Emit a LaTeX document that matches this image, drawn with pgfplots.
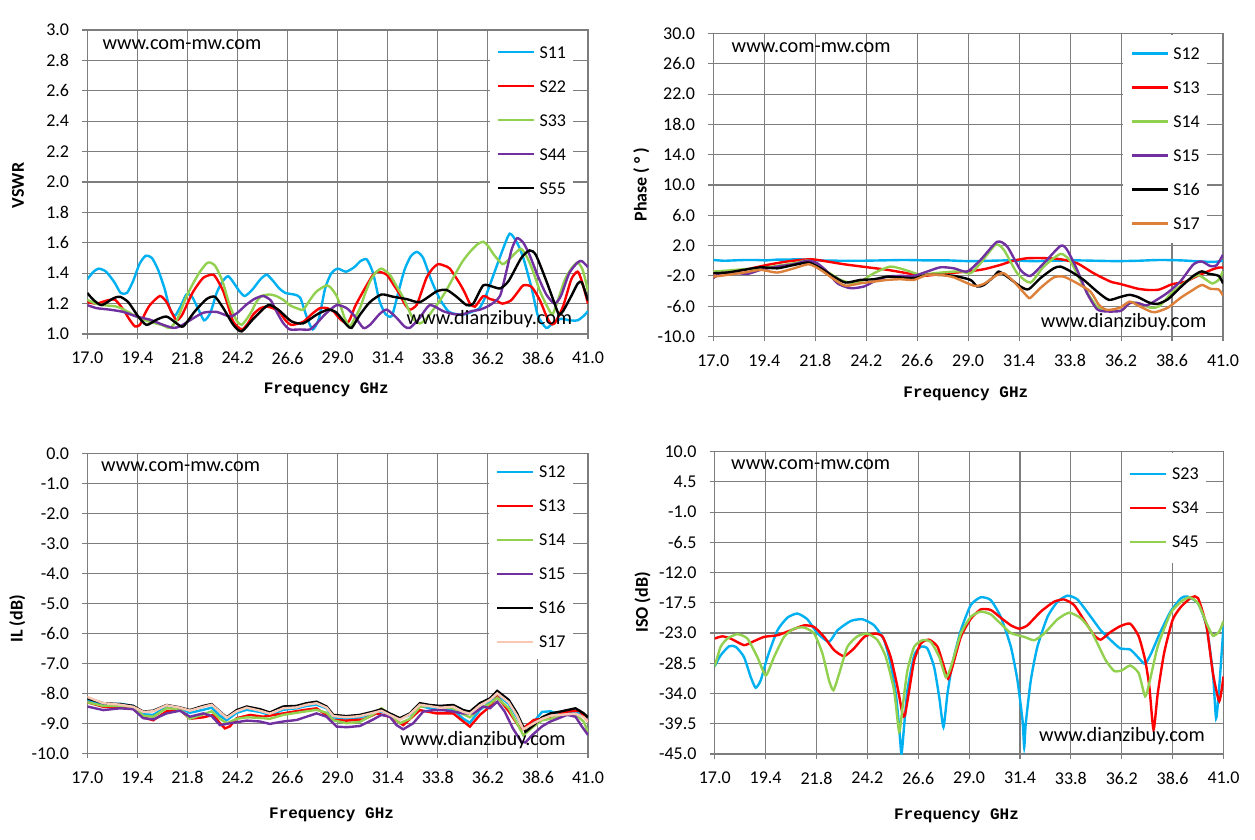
\documentclass[border=0pt]{standalone}
\usepackage{fontspec}
\setmainfont{Carlito}
\newfontfamily\xlabfont{Liberation Mono}
\usepackage{pgfplots}
\pgfplotsset{compat=1.18}

\definecolor{cB}{RGB}{0,176,240}
\definecolor{cR}{RGB}{255,0,0}
\definecolor{cG}{RGB}{146,208,80}
\definecolor{cP}{RGB}{112,48,160}
\definecolor{cO}{RGB}{220,128,58}
\definecolor{cPe}{RGB}{248,200,180}
\definecolor{gridc}{RGB}{125,125,125}

\newcommand{\fs}{\fontsize{18pt}{21pt}\selectfont}
\newcommand{\wm}{\fontsize{20.3pt}{24pt}\selectfont}
\newcommand{\yl}{\fontsize{18pt}{21pt}\selectfont\bfseries}
\newcommand{\xl}{\fontsize{16pt}{19pt}\selectfont\xlabfont\bfseries}

\pgfplotsset{
  panel/.style={
    scale only axis, anchor=south west,
    xmin=17, xmax=41,
    xtick={17,19.4,21.8,24.2,26.6,29,31.4,33.8,36.2,38.6,41},
    xticklabels={17.0,19.4,21.8,24.2,26.6,29.0,31.4,33.8,36.2,38.6,41.0},
    grid=major,
    major grid style={draw=gridc, line width=1.1pt},
    axis line style={draw=gridc, line width=1.1pt},
    every tick/.style={draw=gridc, line width=1.1pt},
    tick align=outside,
    major tick length=5pt,
    tick pos=left,
    tick label style={font=\fs},
    xticklabel style={inner sep=0pt, yshift=-13pt},
    yticklabel style={inner sep=0pt, xshift=-13pt},
    legend style={draw=none, fill=white, font=\fs, anchor=north west,
      inner xsep=7pt, inner ysep=15pt, row sep=22pt,
      nodes={inner sep=0pt, text height=12pt, text depth=0pt},
      cells={anchor=west},
      /tikz/every odd column/.append style={column sep=4.6pt}},
    legend image code/.code={\draw[#1, line width=2.4pt] (0pt,0pt) -- (36pt,0pt);},
    every axis plot/.append style={line width=2.4pt, no markers},
  }
}

\begin{document}
\begin{tikzpicture}
\path[use as bounding box] (0pt,0pt) rectangle (1255pt,839pt);

% ---------------- Panel 1: VSWR ----------------
\begin{axis}[panel, at={(87.3pt,505pt)}, width=500.7pt, height=304pt,
  ymin=1, ymax=3,
  ytick={1,1.2,1.4,1.6,1.8,2,2.2,2.4,2.6,2.8,3},
  yticklabels={1.0,1.2,1.4,1.6,1.8,2.0,2.2,2.4,2.6,2.8,3.0},
  legend style={at={(0.803,0.997)}},
  every axis plot/.append style={smooth, tension=0.4}]
\addplot[cB] coordinates {(17.0,1.36)(17.3,1.41)(17.55,1.43)(17.9,1.41)(18.3,1.34)(18.6,1.27)(18.9,1.27)(19.2,1.35)(19.5,1.46)(19.8,1.515)(20.1,1.50)(20.4,1.42)(20.7,1.30)(20.95,1.17)(21.2,1.12)(21.5,1.19)(21.75,1.26)(22.0,1.25)(22.3,1.17)(22.6,1.09)(22.9,1.14)(23.2,1.27)(23.5,1.35)(23.75,1.38)(24.0,1.34)(24.3,1.28)(24.55,1.25)(24.9,1.29)(25.3,1.36)(25.6,1.39)(25.9,1.35)(26.2,1.30)(26.5,1.27)(26.9,1.26)(27.2,1.24)(27.5,1.12)(27.8,1.03)(28.1,1.10)(28.4,1.30)(28.7,1.40)(29.0,1.43)(29.4,1.41)(29.8,1.44)(30.1,1.48)(30.4,1.49)(30.7,1.40)(31.0,1.22)(31.3,1.13)(31.6,1.12)(31.9,1.27)(32.2,1.42)(32.5,1.51)(32.8,1.54)(33.1,1.50)(33.5,1.35)(33.9,1.23)(34.3,1.15)(34.7,1.13)(35.1,1.13)(35.5,1.15)(35.8,1.17)(36.1,1.25)(36.5,1.40)(36.9,1.55)(37.25,1.66)(37.6,1.60)(37.9,1.50)(38.3,1.30)(38.6,1.12)(39.0,1.04)(39.3,1.07)(39.7,1.10)(40.1,1.09)(40.5,1.09)(40.8,1.12)(41.0,1.15)};
\addlegendentry{S11}
\addplot[cR] coordinates {(17.0,1.21)(17.45,1.20)(17.93,1.22)(18.33,1.225)(18.73,1.16)(19.0,1.10)(19.28,1.05)(19.52,1.06)(19.75,1.13)(20.0,1.19)(20.48,1.25)(20.8,1.21)(21.05,1.14)(21.28,1.09)(21.52,1.12)(21.8,1.20)(22.08,1.28)(22.56,1.37)(23.04,1.39)(23.3,1.34)(23.52,1.28)(23.76,1.18)(24.0,1.08)(24.4,1.03)(24.7,1.07)(24.96,1.13)(25.3,1.17)(25.6,1.18)(25.9,1.17)(26.23,1.14)(26.5,1.09)(26.79,1.06)(27.35,1.08)(27.75,1.13)(28.15,1.17)(28.5,1.17)(28.79,1.15)(29.1,1.10)(29.43,1.07)(29.6,1.10)(29.83,1.18)(30.1,1.25)(30.39,1.32)(30.7,1.39)(30.95,1.41)(31.35,1.39)(31.7,1.32)(31.98,1.26)(32.2,1.20)(32.46,1.16)(32.78,1.19)(33.0,1.27)(33.26,1.37)(33.55,1.43)(33.82,1.46)(34.1,1.45)(34.38,1.43)(34.86,1.33)(35.1,1.27)(35.34,1.20)(35.58,1.18)(35.98,1.25)(36.3,1.23)(36.6,1.22)(36.9,1.20)(37.3,1.22)(37.6,1.27)(37.9,1.32)(38.3,1.31)(38.7,1.22)(39.0,1.12)(39.2,1.07)(39.4,1.07)(39.8,1.18)(40.2,1.36)(40.5,1.41)(40.7,1.35)(41.0,1.20)};
\addlegendentry{S22}
\addplot[cG] coordinates {(17.0,1.225)(17.4,1.20)(17.77,1.19)(18.41,1.18)(18.9,1.15)(19.28,1.12)(19.6,1.10)(20.0,1.08)(20.56,1.06)(20.96,1.04)(21.28,1.09)(21.5,1.16)(21.76,1.25)(22.1,1.34)(22.4,1.41)(22.72,1.465)(22.9,1.47)(23.12,1.45)(23.35,1.39)(23.52,1.33)(23.8,1.20)(24.0,1.13)(24.2,1.08)(24.4,1.06)(24.65,1.10)(24.88,1.15)(25.1,1.21)(25.35,1.25)(25.75,1.26)(26.05,1.25)(26.39,1.225)(26.7,1.19)(27.03,1.17)(27.35,1.16)(27.65,1.22)(27.99,1.28)(28.47,1.32)(28.7,1.30)(28.95,1.25)(29.15,1.18)(29.35,1.10)(29.59,1.05)(29.8,1.10)(30.07,1.17)(30.3,1.26)(30.55,1.345)(30.8,1.40)(31.1,1.43)(31.5,1.39)(31.8,1.32)(32.14,1.24)(32.4,1.16)(32.62,1.10)(32.94,1.07)(33.25,1.10)(33.58,1.16)(33.9,1.22)(34.22,1.29)(34.7,1.41)(35.0,1.48)(35.34,1.54)(35.7,1.59)(35.98,1.607)(36.2,1.58)(36.5,1.52)(36.9,1.46)(37.2,1.49)(37.5,1.53)(37.8,1.56)(38.1,1.50)(38.4,1.40)(38.7,1.28)(39.05,1.18)(39.3,1.13)(39.6,1.24)(39.9,1.36)(40.2,1.43)(40.5,1.47)(40.75,1.42)(41.0,1.28)};
\addlegendentry{S33}
\addplot[cP] coordinates {(17.0,1.19)(17.45,1.17)(18.09,1.16)(18.73,1.145)(19.36,1.115)(20.0,1.094)(20.64,1.06)(21.12,1.04)(21.44,1.05)(21.92,1.09)(22.56,1.14)(23.2,1.145)(23.84,1.115)(24.2,1.14)(24.6,1.19)(25.0,1.23)(25.43,1.25)(25.8,1.22)(26.1,1.14)(26.4,1.07)(26.71,1.03)(27.2,1.03)(27.67,1.03)(28.0,1.07)(28.4,1.13)(28.95,1.19)(29.43,1.17)(29.8,1.12)(30.23,1.04)(30.55,1.06)(31.0,1.13)(31.35,1.16)(31.8,1.11)(32.2,1.05)(32.46,1.04)(32.9,1.10)(33.42,1.19)(34.06,1.15)(34.6,1.13)(35.02,1.13)(35.4,1.15)(35.82,1.16)(36.3,1.19)(36.78,1.25)(37.1,1.42)(37.35,1.56)(37.6,1.63)(37.9,1.60)(38.2,1.52)(38.6,1.38)(39.0,1.26)(39.4,1.20)(39.7,1.25)(40.1,1.40)(40.5,1.47)(40.7,1.48)(41.0,1.44)};
\addlegendentry{S44}
\addplot[black] coordinates {(17.0,1.27)(17.29,1.225)(17.69,1.19)(18.25,1.235)(18.57,1.245)(18.96,1.21)(19.44,1.115)(19.84,1.06)(20.32,1.094)(20.8,1.115)(21.28,1.07)(21.6,1.05)(22.16,1.15)(22.72,1.23)(23.12,1.245)(23.52,1.17)(24.0,1.06)(24.4,1.017)(24.96,1.10)(25.67,1.19)(26.15,1.16)(26.79,1.083)(27.35,1.07)(27.99,1.127)(28.55,1.16)(28.95,1.14)(29.43,1.06)(29.67,1.04)(30.07,1.127)(30.55,1.21)(31.1,1.26)(31.66,1.245)(32.3,1.23)(32.94,1.21)(33.74,1.28)(34.22,1.29)(34.7,1.245)(35.18,1.19)(35.5,1.20)(35.98,1.32)(36.46,1.31)(36.8,1.30)(37.2,1.35)(37.8,1.50)(38.2,1.55)(38.5,1.52)(39.0,1.35)(39.4,1.20)(39.6,1.13)(39.8,1.15)(40.2,1.25)(40.5,1.33)(40.7,1.34)(41.0,1.22)};
\addlegendentry{S55}
\end{axis}

% ---------------- Panel 2: Phase ----------------
\begin{axis}[panel, at={(713.3pt,502.5pt)}, width=509.7pt, height=303pt,
  ymin=-10, ymax=30,
  ytick={-10,-6,-2,2,6,10,14,18,22,26,30},
  yticklabels={-10.0,-6.0,-2.0,2.0,6.0,10.0,14.0,18.0,22.0,26.0,30.0},
  legend style={at={(0.804,0.997)}, inner ysep=13pt},
  every axis plot/.append style={smooth, tension=0.4}]
\addplot[cB] coordinates {(17,0.1)(17.5,0.0)(18,0.05)(18.5,0.1)(19,0.1)(19.5,0.05)(20,0.15)(20.5,0.15)(21,0.2)(21.5,0.1)(22,0.05)(23,0.0)(24,0.0)(25,0.05)(26,0.1)(27,0.05)(28,0.05)(29,-0.05)(30,0.0)(31,0.05)(32,-0.05)(33,0.0)(34,0.05)(35,0.0)(36,-0.05)(37,0.0)(38,0.1)(39,0.05)(40,-0.1)(40.6,-0.15)(41,0.0)};
\addlegendentry{S12}
\addplot[cR] coordinates {(17.0,-1.65)(17.66,-1.56)(18.6,-1.12)(19.54,-0.55)(20.48,-0.1)(21.58,0.2)(22.36,-0.1)(23.15,-0.46)(24.25,-0.86)(25.19,-1.2)(26.13,-1.65)(26.76,-2.0)(27.38,-1.87)(28.01,-1.65)(28.95,-1.43)(29.74,-1.12)(30.52,-0.55)(31.15,0.02)(31.78,0.33)(32.56,0.35)(33.35,0.2)(34.13,-0.33)(34.91,-1.65)(35.7,-2.75)(36.14,-3.05)(36.6,-3.4)(37.0,-3.7)(37.5,-3.86)(38.0,-3.8)(38.6,-3.1)(39.2,-2.8)(39.8,-2.0)(40.5,-1.15)(40.8,-0.9)(41.0,-0.9)};
\addlegendentry{S13}
\addplot[cG] coordinates {(17.0,-1.43)(17.66,-1.3)(18.44,-1.12)(19.23,-1.0)(20.01,-0.68)(20.8,-0.33)(21.42,0.02)(21.82,-0.33)(22.36,-1.43)(22.99,-2.53)(23.46,-2.88)(23.93,-2.75)(24.56,-1.65)(25.35,-0.77)(26.13,-1.3)(26.76,-1.87)(27.38,-1.65)(28.01,-1.5)(28.64,-1.4)(29.11,-1.65)(29.58,-0.33)(30.29,2.1)(30.68,1.43)(31.31,-1.65)(31.93,-2.88)(32.56,-0.77)(33.35,0.9)(33.82,-0.1)(34.44,-3.4)(35.07,-6.1)(35.54,-6.5)(36.2,-6.6)(36.6,-5.6)(37.0,-5.6)(37.6,-6.2)(38.0,-6.0)(38.6,-4.2)(39.2,-2.9)(39.8,-1.9)(40.2,-2.5)(40.5,-3.0)(40.8,-2.5)(41.0,-1.4)};
\addlegendentry{S14}
\addplot[cP] coordinates {(17.0,-2.3)(17.35,-1.65)(17.97,-1.56)(18.6,-1.74)(19.23,-1.2)(20.01,-0.77)(20.8,-0.46)(21.42,0.0)(21.89,-0.33)(22.36,-1.43)(22.84,-2.97)(23.46,-3.63)(24.09,-3.4)(24.56,-2.75)(25.19,-2.1)(25.82,-2.0)(26.44,-2.0)(27.07,-1.43)(27.7,-0.86)(28.33,-1.0)(28.95,-1.43)(29.58,0.1)(30.36,2.5)(30.84,1.87)(31.46,-1.2)(31.93,-2.0)(32.56,-0.33)(33.35,1.96)(33.66,1.43)(34.13,-1.2)(34.6,-4.3)(35.07,-6.4)(35.54,-6.7)(36.2,-6.6)(36.6,-5.6)(37.0,-5.6)(37.4,-5.9)(37.8,-5.3)(38.4,-4.2)(39.0,-2.7)(39.6,-0.5)(40.0,-0.1)(40.4,-0.7)(40.7,-0.6)(41.0,0.8)};
\addlegendentry{S15}
\addplot[black] coordinates {(17.0,-1.65)(17.66,-1.56)(18.44,-1.2)(19.23,-0.86)(20.01,-1.0)(20.8,-0.55)(21.5,-0.24)(22.05,-1.0)(22.68,-2.1)(23.23,-2.88)(23.93,-2.53)(24.56,-2.44)(25.19,-2.1)(25.82,-2.2)(26.44,-2.3)(27.07,-1.87)(27.7,-1.87)(28.33,-2.0)(29.11,-2.53)(29.42,-3.4)(29.74,-3.2)(30.21,-2.1)(30.44,-1.43)(30.84,-2.1)(31.46,-3.4)(31.85,-3.76)(32.4,-2.3)(33.03,-1.0)(33.35,-0.77)(33.82,-1.4)(34.44,-2.53)(35.07,-4.07)(35.62,-5.16)(36.14,-4.8)(36.6,-4.5)(37.0,-4.8)(37.5,-5.5)(37.9,-5.7)(38.4,-5.1)(39.0,-3.5)(39.6,-2.0)(40.0,-1.4)(40.3,-1.7)(40.8,-2.0)(41.0,-3.0)};
\addlegendentry{S16}
\addplot[cO] coordinates {(17.0,-2.1)(17.66,-1.87)(18.44,-1.56)(19.23,-1.2)(20.01,-1.56)(20.8,-1.0)(21.5,-0.46)(22.05,-1.2)(22.68,-2.44)(23.23,-3.3)(23.93,-2.97)(24.56,-2.75)(25.19,-2.53)(25.82,-2.44)(26.44,-2.53)(27.07,-1.87)(27.7,-1.87)(28.33,-2.2)(29.27,-3.3)(29.74,-3.05)(30.36,-1.87)(30.68,-1.65)(31.15,-2.75)(31.78,-4.7)(31.93,-4.9)(32.4,-3.6)(33.03,-2.2)(33.5,-2.1)(34.13,-2.97)(34.76,-4.07)(35.15,-5.8)(35.54,-6.5)(36.14,-6.2)(36.6,-5.4)(37.0,-5.9)(37.5,-6.6)(37.8,-6.8)(38.4,-6.2)(39.0,-4.9)(39.5,-4.0)(40.0,-3.2)(40.4,-3.7)(40.8,-3.8)(41.0,-4.6)};
\addlegendentry{S17}
\end{axis}

% ---------------- Panel 3: IL ----------------
\begin{axis}[panel, at={(87.3pt,85.7pt)}, width=500.7pt, height=300pt,
  ymin=-10, ymax=0,
  ytick={-10,-9,-8,-7,-6,-5,-4,-3,-2,-1,0},
  yticklabels={-10.0,-9.0,-8.0,-7.0,-6.0,-5.0,-4.0,-3.0,-2.0,-1.0,0.0},
  legend style={at={(0.802,0.997)}, inner ysep=11.5pt}]
\addplot[cB] coordinates {(17.0,-8.25)(17.77,-8.38)(18.57,-8.35)(19.2,-8.42)(19.68,-8.7)(20.16,-8.72)(20.8,-8.45)(21.44,-8.5)(21.92,-8.65)(22.56,-8.55)(22.96,-8.48)(23.36,-8.75)(23.68,-8.9)(24.16,-8.65)(24.64,-8.55)(25.27,-8.62)(25.75,-8.72)(26.39,-8.55)(27.03,-8.5)(27.51,-8.42)(27.99,-8.38)(28.47,-8.5)(28.79,-8.8)(29.43,-8.85)(30.07,-8.8)(30.71,-8.68)(31.1,-8.6)(31.5,-8.72)(31.98,-8.85)(32.46,-8.72)(32.94,-8.42)(33.42,-8.5)(33.9,-8.55)(34.54,-8.55)(35.02,-8.85)(35.34,-8.98)(35.82,-8.55)(36.3,-8.3)(36.65,-8.05)(37.2,-8.35)(37.6,-8.8)(37.9,-9.15)(38.4,-8.95)(38.8,-8.62)(39.2,-8.6)(39.6,-8.7)(40.0,-8.65)(40.4,-8.62)(40.8,-8.75)(41.0,-8.85)};
\addlegendentry{S12}
\addplot[cR] coordinates {(17.0,-8.3)(17.77,-8.45)(18.57,-8.45)(19.2,-8.45)(19.68,-8.8)(20.16,-8.9)(20.8,-8.6)(21.44,-8.55)(21.92,-8.85)(22.56,-8.8)(23.04,-8.72)(23.36,-9.0)(23.6,-9.17)(23.84,-9.1)(24.16,-8.83)(24.8,-8.72)(25.43,-8.78)(26.39,-8.67)(27.35,-8.56)(27.99,-8.5)(28.79,-8.89)(29.43,-8.91)(30.23,-8.87)(30.87,-8.67)(31.5,-8.78)(32.14,-9.06)(32.94,-8.56)(33.74,-8.67)(34.54,-8.67)(35.02,-8.94)(35.34,-9.11)(35.82,-8.72)(36.3,-8.44)(36.65,-8.11)(37.2,-8.6)(37.8,-9.22)(38.4,-8.89)(39.2,-8.8)(40.0,-8.61)(40.6,-8.58)(41.0,-8.94)};
\addlegendentry{S13}
\addplot[cG] coordinates {(17.0,-8.3)(17.77,-8.42)(18.57,-8.42)(19.2,-8.45)(19.68,-8.75)(20.16,-8.78)(20.8,-8.5)(21.44,-8.52)(21.92,-8.85)(22.56,-8.7)(22.96,-8.6)(23.36,-8.85)(23.68,-9.0)(24.16,-8.85)(24.64,-8.8)(25.27,-8.82)(25.75,-8.85)(26.39,-8.72)(27.03,-8.65)(27.51,-8.6)(27.99,-8.55)(28.47,-8.65)(28.79,-8.9)(29.43,-9.0)(30.07,-8.95)(30.71,-8.7)(31.1,-8.5)(31.5,-8.7)(31.98,-9.0)(32.46,-8.85)(32.94,-8.45)(33.42,-8.42)(33.9,-8.45)(34.54,-8.5)(35.02,-8.7)(35.34,-8.8)(35.82,-8.5)(36.3,-8.35)(36.65,-8.15)(37.2,-8.5)(37.6,-9.0)(37.9,-9.4)(38.4,-9.1)(38.8,-8.9)(39.2,-8.85)(39.6,-8.75)(40.0,-8.7)(40.4,-8.7)(40.8,-8.95)(41.0,-9.3)};
\addlegendentry{S14}
\addplot[cP] coordinates {(17.0,-8.44)(17.77,-8.56)(18.57,-8.5)(19.2,-8.53)(19.68,-8.83)(20.16,-8.87)(20.8,-8.67)(21.44,-8.58)(21.92,-8.78)(22.56,-8.67)(22.96,-8.76)(23.36,-9.06)(23.84,-9.0)(24.64,-8.91)(25.27,-8.94)(25.75,-9.02)(26.39,-8.94)(27.03,-8.89)(27.51,-8.78)(27.99,-8.67)(28.47,-8.78)(28.95,-9.11)(29.43,-9.13)(30.07,-9.09)(30.71,-8.87)(31.1,-8.72)(31.5,-8.78)(31.82,-9.06)(32.14,-9.2)(32.62,-9.0)(33.1,-8.61)(33.58,-8.56)(34.06,-8.56)(34.54,-8.61)(35.02,-8.67)(35.5,-8.67)(35.98,-8.44)(36.3,-8.5)(36.65,-8.28)(37.0,-8.6)(37.4,-9.17)(37.8,-9.61)(38.0,-9.64)(38.3,-9.41)(38.8,-9.1)(39.2,-8.94)(39.6,-8.83)(40.0,-8.72)(40.4,-8.78)(40.7,-9.1)(41.0,-9.39)};
\addlegendentry{S15}
\addplot[black] coordinates {(17.0,-8.17)(17.77,-8.33)(18.57,-8.36)(19.2,-8.42)(19.68,-8.61)(20.16,-8.58)(20.8,-8.39)(21.44,-8.47)(21.92,-8.56)(22.56,-8.42)(22.96,-8.36)(23.36,-8.61)(23.68,-8.8)(24.16,-8.56)(24.64,-8.44)(25.27,-8.53)(25.75,-8.64)(26.39,-8.44)(27.03,-8.42)(27.51,-8.33)(27.99,-8.28)(28.47,-8.44)(28.79,-8.72)(29.43,-8.76)(30.07,-8.72)(30.71,-8.61)(31.1,-8.53)(31.5,-8.67)(31.98,-8.83)(32.46,-8.67)(32.94,-8.33)(33.42,-8.39)(33.9,-8.42)(34.54,-8.39)(35.02,-8.56)(35.34,-8.61)(35.82,-8.33)(36.3,-8.17)(36.65,-7.92)(37.2,-8.22)(37.6,-8.67)(38.0,-9.28)(38.4,-9.06)(38.8,-8.8)(39.2,-8.67)(39.6,-8.62)(40.0,-8.56)(40.4,-8.5)(40.8,-8.67)(41.0,-8.8)};
\addlegendentry{S16}
\addplot[cPe] coordinates {(17.0,-8.12)(17.77,-8.33)(18.57,-8.38)(19.2,-8.45)(19.68,-8.62)(20.16,-8.6)(20.8,-8.4)(21.44,-8.48)(21.92,-8.58)(22.56,-8.45)(22.96,-8.38)(23.36,-8.62)(23.68,-8.82)(24.16,-8.6)(24.64,-8.48)(25.27,-8.58)(25.75,-8.68)(26.39,-8.5)(27.03,-8.47)(27.51,-8.38)(27.99,-8.33)(28.47,-8.48)(28.79,-8.76)(29.43,-8.8)(30.07,-8.76)(30.71,-8.65)(31.1,-8.58)(31.5,-8.72)(31.98,-8.88)(32.46,-8.7)(32.94,-8.38)(33.42,-8.43)(33.9,-8.48)(34.54,-8.45)(35.02,-8.62)(35.34,-8.68)(35.82,-8.4)(36.3,-8.22)(36.65,-8.0)(37.2,-8.3)(37.6,-8.75)(37.9,-9.2)(38.4,-9.0)(38.8,-8.85)(39.2,-8.75)(39.6,-8.72)(40.0,-8.7)(40.4,-8.68)(40.8,-8.8)(41.0,-8.95)};
\addlegendentry{S17}
\end{axis}

% ---------------- Panel 4: ISO ----------------
\begin{axis}[panel, at={(714.7pt,85pt)}, width=508.8pt, height=302.4pt,
  ymin=-45, ymax=10,
  ytick={-45,-39.5,-34,-28.5,-23,-17.5,-12,-6.5,-1,4.5,10},
  yticklabels={-45.0,-39.5,-34.0,-28.5,-23.0,-17.5,-12.0,-6.5,-1.0,4.5,10.0},
  legend style={at={(0.8005,0.997)}},
  every axis plot/.append style={smooth, tension=0.35}]
\addplot[cB] coordinates {(17.0,-29.06)(17.28,-27.05)(17.68,-25.4)(17.99,-25.5)(18.38,-27.35)(18.7,-31.0)(18.93,-32.95)(19.17,-31.6)(19.49,-27.35)(19.96,-22.5)(20.43,-20.2)(20.9,-19.45)(21.37,-20.5)(21.84,-23.0)(22.39,-24.6)(22.79,-22.5)(23.42,-20.8)(23.97,-20.5)(24.52,-21.6)(24.99,-24.3)(25.3,-28.6)(25.54,-34.0)(25.7,-40.1)(25.81,-45.0)(25.93,-40.1)(26.09,-33.4)(26.41,-27.05)(26.72,-25.5)(27.03,-25.8)(27.35,-29.2)(27.59,-34.65)(27.79,-40.1)(27.98,-34.0)(28.21,-28.6)(28.61,-22.5)(29.08,-17.9)(29.55,-16.5)(30.02,-17.0)(30.49,-20.05)(30.97,-25.5)(31.28,-31.6)(31.52,-38.9)(31.6,-43.8)(31.67,-39.5)(31.91,-31.6)(32.22,-25.5)(32.7,-20.05)(33.17,-17.3)(33.64,-16.2)(34.11,-16.9)(34.74,-20.05)(35.21,-22.5)(35.68,-24.3)(36.13,-25.8)(36.6,-26.0)(37.0,-27.55)(37.3,-28.6)(37.6,-26.6)(38.0,-23.0)(38.5,-19.1)(39.0,-16.65)(39.3,-16.35)(39.8,-17.6)(40.2,-21.8)(40.5,-30.3)(40.65,-38.5)(40.8,-32.7)(41.0,-21.8)};
\addlegendentry{S23}
\addplot[cR] coordinates {(17.0,-24.0)(17.36,-23.6)(17.75,-24.0)(18.38,-25.2)(18.78,-24.6)(19.33,-23.7)(19.96,-23.4)(20.59,-22.5)(21.22,-21.6)(21.69,-21.9)(22.16,-23.7)(22.63,-26.1)(23.1,-27.2)(23.57,-25.8)(24.05,-23.7)(24.52,-23.1)(24.91,-23.6)(25.3,-27.35)(25.62,-32.8)(25.86,-37.7)(25.97,-38.0)(26.17,-33.5)(26.41,-27.96)(26.72,-24.9)(27.11,-24.2)(27.51,-25.5)(27.82,-29.2)(28.01,-31.3)(28.21,-29.2)(28.61,-23.7)(29.08,-20.4)(29.55,-18.7)(30.02,-18.8)(30.49,-20.2)(30.97,-21.6)(31.36,-22.2)(31.75,-21.6)(32.38,-19.1)(33.01,-17.3)(33.48,-16.9)(33.95,-17.9)(34.43,-20.7)(34.9,-23.4)(35.21,-24.2)(35.68,-22.8)(36.13,-21.75)(36.6,-21.3)(37.0,-23.6)(37.3,-27.85)(37.5,-32.7)(37.7,-40.6)(37.9,-33.9)(38.2,-26.6)(38.6,-20.6)(39.0,-18.2)(39.5,-16.5)(39.8,-16.65)(40.2,-21.8)(40.5,-30.3)(40.8,-35.4)(41.0,-30.9)};
\addlegendentry{S34}
\addplot[cG] coordinates {(17.0,-29.06)(17.28,-25.5)(17.6,-24.0)(18.07,-23.2)(18.54,-24.0)(19.01,-27.35)(19.41,-30.7)(19.8,-27.35)(20.27,-23.7)(20.74,-22.2)(21.22,-22.0)(21.69,-23.1)(22.08,-26.7)(22.39,-31.6)(22.6,-33.4)(22.87,-30.4)(23.26,-25.5)(23.73,-23.6)(24.2,-23.1)(24.68,-24.3)(25.07,-27.35)(25.46,-33.4)(25.7,-41.0)(25.86,-36.5)(26.09,-29.8)(26.41,-25.5)(26.8,-24.3)(27.19,-24.6)(27.59,-27.35)(27.9,-31.0)(28.14,-29.2)(28.61,-23.1)(29.08,-20.05)(29.55,-19.1)(30.02,-19.6)(30.49,-21.3)(30.97,-23.0)(31.6,-23.7)(32.07,-24.3)(32.54,-23.1)(33.17,-20.5)(33.72,-19.3)(34.27,-20.3)(34.74,-22.5)(35.13,-25.5)(35.45,-28.0)(35.84,-29.9)(36.2,-29.8)(36.6,-28.9)(37.0,-30.3)(37.3,-34.5)(37.5,-32.1)(37.9,-25.4)(38.5,-19.4)(39.0,-17.3)(39.4,-16.5)(39.8,-17.6)(40.2,-21.2)(40.5,-23.5)(40.8,-22.7)(41.0,-20.8)};
\addlegendentry{S45}
\end{axis}

% ---------------- labels and watermarks ----------------
\node[rotate=90, font=\yl] at (18pt,653.6pt) {VSWR};
\node[rotate=90, font=\yl] at (641.4pt,654.4pt) {Phase ( ° )};
\node[rotate=90, font=\yl] at (17.2pt,220pt) {IL (dB)};
\node[rotate=90, font=\yl] at (642.6pt,236.6pt) {ISO (dB)};

\node[font=\xl] at (326.3pt,449.4pt) {Frequency GHz};
\node[font=\xl] at (965.8pt,445.3pt) {Frequency GHz};
\node[font=\xl] at (331.6pt,24.3pt) {Frequency GHz};
\node[font=\xl] at (956.5pt,23pt) {Frequency GHz};

\node[font=\wm, anchor=west, inner sep=0pt] at (102.3pt,794pt) {www.com-mw.com};
\node[font=\wm, anchor=west, inner sep=0pt] at (406.5pt,520pt) {www.dianzibuy.com};
\node[font=\wm, anchor=west, inner sep=0pt] at (731.5pt,791.5pt) {www.com-mw.com};
\node[font=\wm, anchor=west, inner sep=0pt] at (1040.6pt,517.3pt) {www.dianzibuy.com};
\node[font=\wm, anchor=west, inner sep=0pt] at (101pt,372.5pt) {www.com-mw.com};
\node[font=\wm, anchor=west, inner sep=0pt] at (400pt,99.4pt) {www.dianzibuy.com};
\node[font=\wm, anchor=west, inner sep=0pt] at (731pt,374pt) {www.com-mw.com};
\node[font=\wm, anchor=west, inner sep=0pt] at (1039pt,103pt) {www.dianzibuy.com};
\end{tikzpicture}
\end{document}
